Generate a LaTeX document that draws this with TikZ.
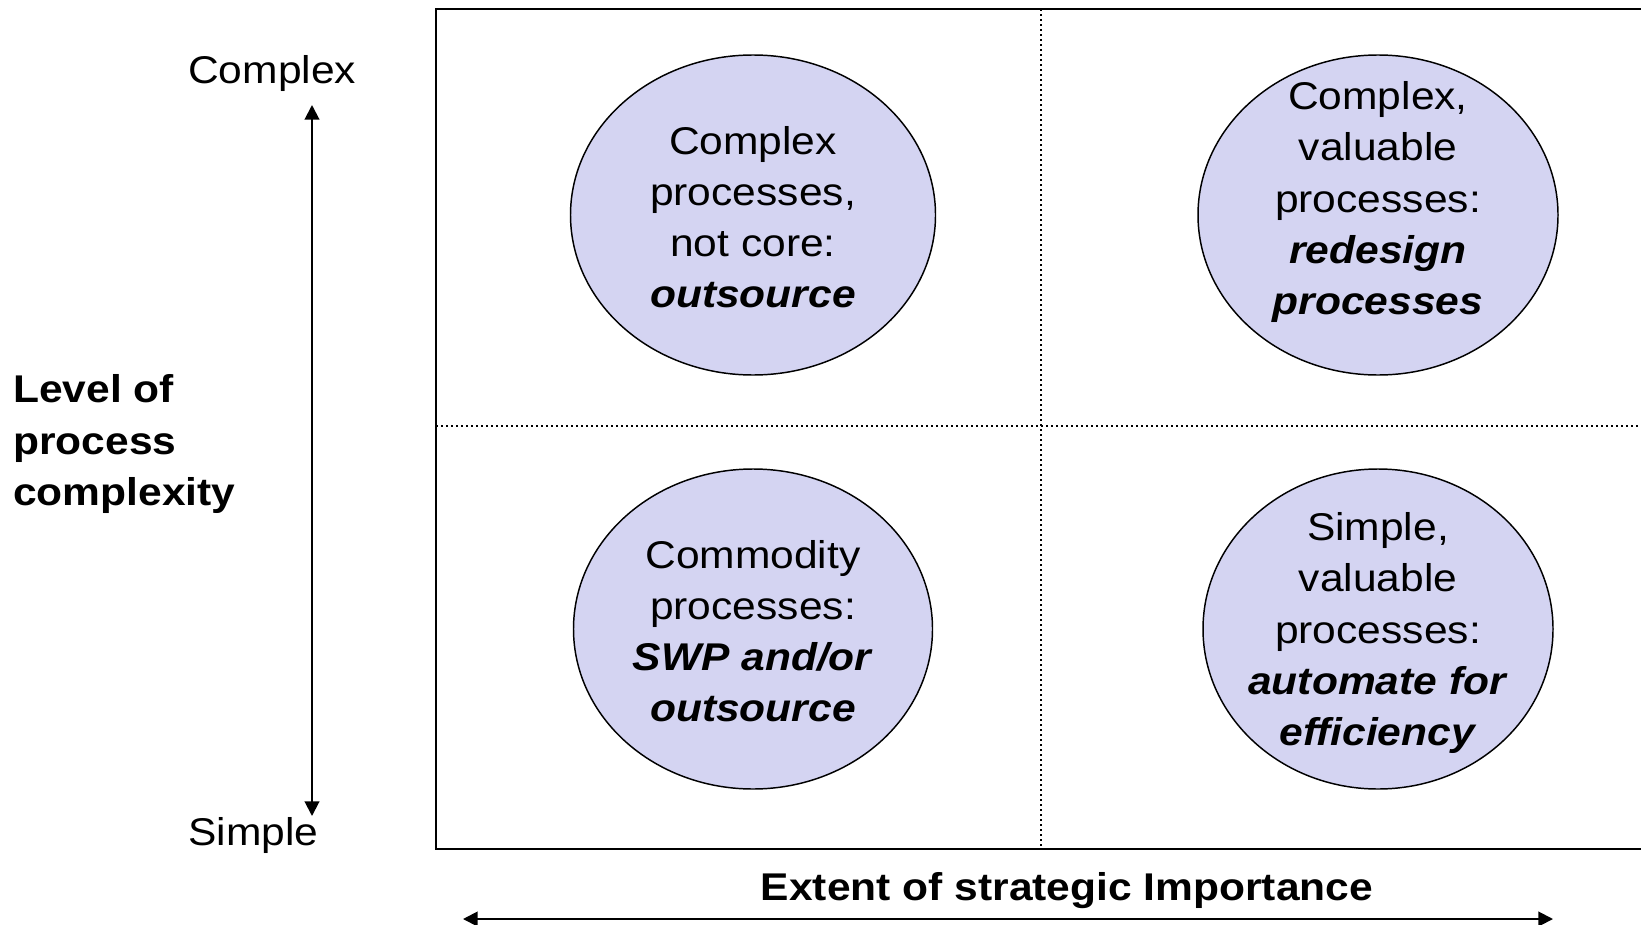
\documentclass[tikz,border=0pt]{standalone}
\usepackage{fontspec}
\setmainfont[FakeStretch=1.1]{Liberation Sans}
\usetikzlibrary{arrows.meta,shapes.geometric}
\definecolor{ellfill}{RGB}{212,212,242}
\tikzset{
  txt/.style={font=\fontsize{29}{38.3}\selectfont, inner sep=0pt, align=center},
  btxt/.style={txt, font=\fontsize{29}{38.3}\selectfont\bfseries},
  ell/.style={ellipse, draw=black, line width=1.1pt, fill=ellfill, inner sep=0pt, minimum height=240pt},
  arr/.style={line width=1.5pt, {Triangle[length=11pt,width=11pt]}-{Triangle[length=11pt,width=11pt]}},
  dotl/.style={line width=1.1pt, dash pattern=on 1.5pt off 2.25pt},
  frame/.style={line width=1.6pt}
}
\newcommand{\bi}[1]{\textbf{\textit{#1}}}
\begin{document}
\begin{tikzpicture}[x=0.75pt,y=-0.75pt]
\useasboundingbox (0,0) rectangle (1641,924);
\clip (0,0) rectangle (1641,924);
% frame
\draw[frame] (1660,9) -- (436,9) -- (436,849) -- (1660,849);
\draw[dotl] (1041,9) -- (1041,849);
\draw[dotl] (436,426) -- (1660,426);
% ellipses
\node[ell, minimum width=273.75pt] (tl) at (753,215) {};
\node[ell, minimum width=270pt] (tr) at (1378,215) {};
\node[ell, minimum width=269.25pt] (bl) at (753,629) {};
\node[ell, minimum width=262.5pt] (br) at (1378,629) {};
\node[txt] (tlt) at (753,217) {Complex\\processes,\\not core:\\\bi{outsource}};
\node[txt] (trt) at (1378,202) {Complex,\\valuable\\processes:\\\bi{redesign}\\\bi{processes}};
\node[txt] (blt) at (753,631) {Commodity\\processes:\\\bi{SWP and/or}\\\bi{outsource}};
\node[txt] (brt) at (1378,633) {Simple,\\valuable\\processes:\\\bi{automate for}\\\bi{efficiency}};
% left axis
\node[txt, anchor=base west] (cx) at (188,84) {Complex};
\node[txt, anchor=base west] (sp) at (188,845) {Simple};
\coordinate (vtop) at (312,105);
\coordinate (vbot) at (312,816);
\draw[arr] (vtop) -- (vbot);
\node[btxt, anchor=west, align=left] (lvl) at (13,444) {Level of\\process\\complexity};
% bottom axis
\node[btxt, anchor=base] (ext) at (1067,900) {Extent of strategic Importance};
\coordinate (hl) at (463,919);
\coordinate (hr) at (1553,919);
\draw[arr] (hl) -- (hr);
\end{tikzpicture}
\end{document}
